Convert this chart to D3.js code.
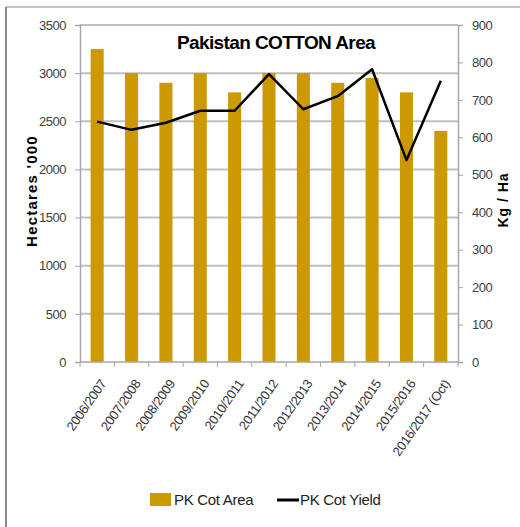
<!DOCTYPE html>
<html>
<head>
<meta charset="utf-8">
<script src="https://cdn.jsdelivr.net/npm/d3@7"></script>
<style>
  body { margin: 0; background: #fff; }
  text { font-family: "Liberation Sans", Arial, sans-serif; }
</style>
</head>
<body>
<div id="chart"></div>
<script>
// Data
const seasons = ["2006/2007", "2007/2008", "2008/2009", "2009/2010", "2010/2011", "2011/2012",
                 "2012/2013", "2013/2014", "2014/2015", "2015/2016", "2016/2017 (Oct)"];
const areaValues = [3250, 3000, 2900, 3000, 2800, 3000, 3000, 2900, 2950, 2800, 2400];
const yieldValues = [642, 620, 639, 671, 671, 769, 675, 710, 782, 539, 751];
const areaTicks = [0, 500, 1000, 1500, 2000, 2500, 3000, 3500];
const yieldTicks = [0, 100, 200, 300, 400, 500, 600, 700, 800, 900];

const w = 520, h = 527;
const plotL = 80, plotR = 458, plotT = 25, plotB = 362;
const barColor = "#cc9a00";
const gridColor = "#bfbfbf";

const svg = d3.select("#chart").append("svg")
    .attr("width", w).attr("height", h);

// frame (only top and left edges show in the picture)
svg.append("line").attr("x1", 6).attr("x2", w).attr("y1", 7).attr("y2", 7)
    .attr("stroke", "#b0b0b0").attr("stroke-width", 1.5);
svg.append("line").attr("x1", 6).attr("x2", 6).attr("y1", 7).attr("y2", h)
    .attr("stroke", "#8c8c8c").attr("stroke-width", 2);

// scales
const x = d3.scaleBand().domain(seasons).range([plotL, plotR]);
const yArea = d3.scaleLinear().domain([0, 3500]).range([plotB, plotT]);
const yYield = d3.scaleLinear().domain([0, 900]).range([plotB, plotT]);

// gridlines
svg.append("g")
    .selectAll("line")
    .data(areaTicks.filter(d => d > 0))
    .enter().append("line")
    .attr("x1", plotL).attr("x2", plotR)
    .attr("y1", d => yArea(d)).attr("y2", d => yArea(d))
    .attr("stroke", gridColor).attr("stroke-width", 2);

// bars
const barW = x.bandwidth() * 0.38;
svg.append("g")
    .selectAll("rect")
    .data(seasons)
    .enter().append("rect")
    .attr("x", d => x(d) + x.bandwidth() / 2 - barW / 2)
    .attr("y", (d, i) => yArea(areaValues[i]))
    .attr("width", barW)
    .attr("height", (d, i) => plotB - yArea(areaValues[i]))
    .attr("fill", barColor);

// left axis
const axL = svg.append("g")
    .attr("transform", `translate(${plotL},0)`)
    .call(d3.axisLeft(yArea).tickValues(areaTicks).tickFormat(d3.format("d"))
        .tickSize(5).tickPadding(9));
// right axis
const axR = svg.append("g")
    .attr("transform", `translate(${plotR},0)`)
    .call(d3.axisRight(yYield).tickValues(yieldTicks).tickFormat(d3.format("d"))
        .tickSize(5).tickPadding(9));
// bottom axis, ticks between categories
const axB = svg.append("g")
    .attr("transform", `translate(0,${plotB})`);
axB.append("line").attr("x1", plotL).attr("x2", plotR)
    .attr("stroke", "#a6a6a6").attr("stroke-width", 1.5);
axB.selectAll("line.tk")
    .data(d3.range(seasons.length + 1))
    .enter().append("line").attr("class", "tk")
    .attr("x1", i => plotL + i * x.step()).attr("x2", i => plotL + i * x.step())
    .attr("y1", 0).attr("y2", 5)
    .attr("stroke", "#a6a6a6");
axB.selectAll("text")
    .data(seasons)
    .enter().append("text")
    .attr("transform", d => `translate(${x(d) + x.bandwidth() / 2 + 6},${19}) rotate(-55)`)
    .attr("text-anchor", "end")
    .attr("dy", "0.35em")
    .attr("font-size", 13)
    .attr("letter-spacing", "-0.3")
    .attr("fill", "#333")
    .text(d => d);

[axL, axR].forEach(ax => {
    ax.select(".domain").attr("stroke", "#a6a6a6").attr("stroke-width", 1.5);
    ax.selectAll(".tick line").attr("stroke", "#a6a6a6");
    ax.selectAll(".tick text").attr("font-size", 13).attr("fill", "#404040")
        .attr("letter-spacing", "-0.5")
        .style("font-family", "\"Liberation Sans\", Arial, sans-serif");
});

// yield line
const line = d3.line()
    .x((d, i) => x(seasons[i]) + x.bandwidth() / 2)
    .y(d => yYield(d));
svg.append("path")
    .datum(yieldValues)
    .attr("d", line)
    .attr("fill", "none")
    .attr("stroke", "#000")
    .attr("stroke-width", 2.5)
    .attr("stroke-linejoin", "round");

// title
svg.append("text")
    .attr("x", 276).attr("y", 49)
    .attr("text-anchor", "middle")
    .attr("font-size", 19).attr("font-weight", "bold")
    .attr("letter-spacing", "-0.6")
    .attr("fill", "#000")
    .text("Pakistan COTTON Area");

// axis titles
svg.append("text")
    .attr("transform", `translate(37,191) rotate(-90)`)
    .attr("text-anchor", "middle")
    .attr("font-size", 15).attr("font-weight", "bold")
    .style("letter-spacing", "1.2px")
    .text("Hectares '000");
svg.append("text")
    .attr("transform", `translate(508,200) rotate(-90)`)
    .attr("text-anchor", "middle")
    .attr("font-size", 14).attr("font-weight", "bold")
    .style("letter-spacing", "1px")
    .text("Kg / Ha");

// legend
const lg = svg.append("g");
lg.append("rect").attr("x", 150).attr("y", 493).attr("width", 21).attr("height", 13)
    .attr("fill", barColor);
lg.append("text").attr("x", 174).attr("y", 505).attr("font-size", 15).attr("fill", "#222")
    .attr("letter-spacing", "-0.3")
    .text("PK Cot Area");
lg.append("line").attr("x1", 277).attr("x2", 299).attr("y1", 500).attr("y2", 500)
    .attr("stroke", "#000").attr("stroke-width", 3);
lg.append("text").attr("x", 300).attr("y", 505).attr("font-size", 15).attr("fill", "#222")
    .attr("letter-spacing", "-0.3")
    .text("PK Cot Yield");
</script>
</body>
</html>
